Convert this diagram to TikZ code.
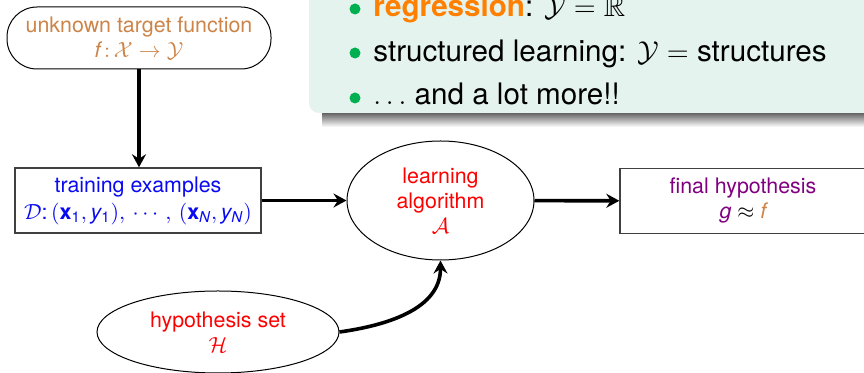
\documentclass[tikz,border=0pt]{standalone}
\usepackage{amssymb}
\usepackage{fontspec}
\setmainfont{TeX Gyre Heros}
\usetikzlibrary{arrows.meta,shapes.geometric}
\definecolor{brn}{RGB}{204,132,72}
\definecolor{blu}{RGB}{10,10,240}
\definecolor{rd}{RGB}{255,0,0}
\definecolor{prp}{RGB}{128,0,128}
\definecolor{org}{RGB}{255,128,0}
\definecolor{bgrn}{RGB}{0,176,80}
\definecolor{panel}{RGB}{228,243,238}
\begin{document}
\begin{tikzpicture}[x=0.5pt,y=-0.5pt,
  dtext/.style={font=\fontsize{10.7}{12.5}\selectfont, align=center, inner sep=0pt},
  rbox/.style={dtext, draw=black, line width=0.5pt, rounded corners=15pt, minimum width=132pt, minimum height=31pt},
  sbox/.style={dtext, draw=black!75, line width=0.7pt, minimum width=123pt, minimum height=32.5pt},
  ell/.style={dtext, draw=black, line width=0.5pt, ellipse},
  conn/.style={line width=1.8pt, -{Stealth[length=6.5pt,width=7pt,inset=2.2pt]}},
  bdot/.style={circle, fill=bgrn, inner sep=0pt, minimum size=5.5pt},
  btext/.style={anchor=base west, inner sep=0pt, font=\fontsize{14.8}{16}\selectfont}]
\useasboundingbox (0,0) rectangle (864,373);
% panel with shadow
\shade[top color=black!65, bottom color=white] (322,112) rectangle (880,127);
\fill[panel, rounded corners=5pt] (309,-30) rectangle (890,113);
\node[bdot] (d1) at (355,9) {};
\node[bdot] (d2) at (355,53) {};
\node[bdot] (d3) at (355,98) {};
\node[btext] (t1) at (373,17) {\textbf{\color{org}regression}: $\mathcal{Y}=\mathbb{R}$};
\node[btext] (t2) at (373,62) {structured learning: $\mathcal{Y}=$ structures};
\node[btext] (t3) at (373,105) {$\ldots$ and a lot more!!};
% diagram
\node[rbox, text=brn] (tgt) at (139,38) {unknown target function\\{\itshape f}\,$\colon\mathcal{X}\to\mathcal{Y}$};
\node[sbox, text=blu] (train) at (138,200.5) {training examples\\[1pt]$\mathcal{D}$:\,$($\textbf{x}\textsubscript{1}$,\,${\itshape y}\textsubscript{1}$),\,\cdots\,,\,($\textbf{x}\textsubscript{\itshape N}$,\,${\itshape y}\textsubscript{\itshape N}$)$};
\node[ell, text=rd, minimum width=93.5pt, minimum height=59.5pt] (alg) at (440.5,200.5) {learning\\algorithm\\$\mathcal{A}$};
\node[sbox, text=prp] (final) at (743,201) {final hypothesis\\{\itshape g} {\color{black}$\approx$} {\color{brn}\itshape f}};
\node[ell, text=rd, minimum width=121pt, minimum height=41pt] (hyp) at (218,332) {hypothesis set\\$\mathcal{H}$};
\draw[conn] (tgt.south) -- (tgt.south |- train.north);
\draw[conn] (train) -- (alg);
\draw[conn] (alg) -- (final);
\draw[conn] (hyp.east) to[out=8,in=-90] (alg.south);
\end{tikzpicture}
\end{document}
